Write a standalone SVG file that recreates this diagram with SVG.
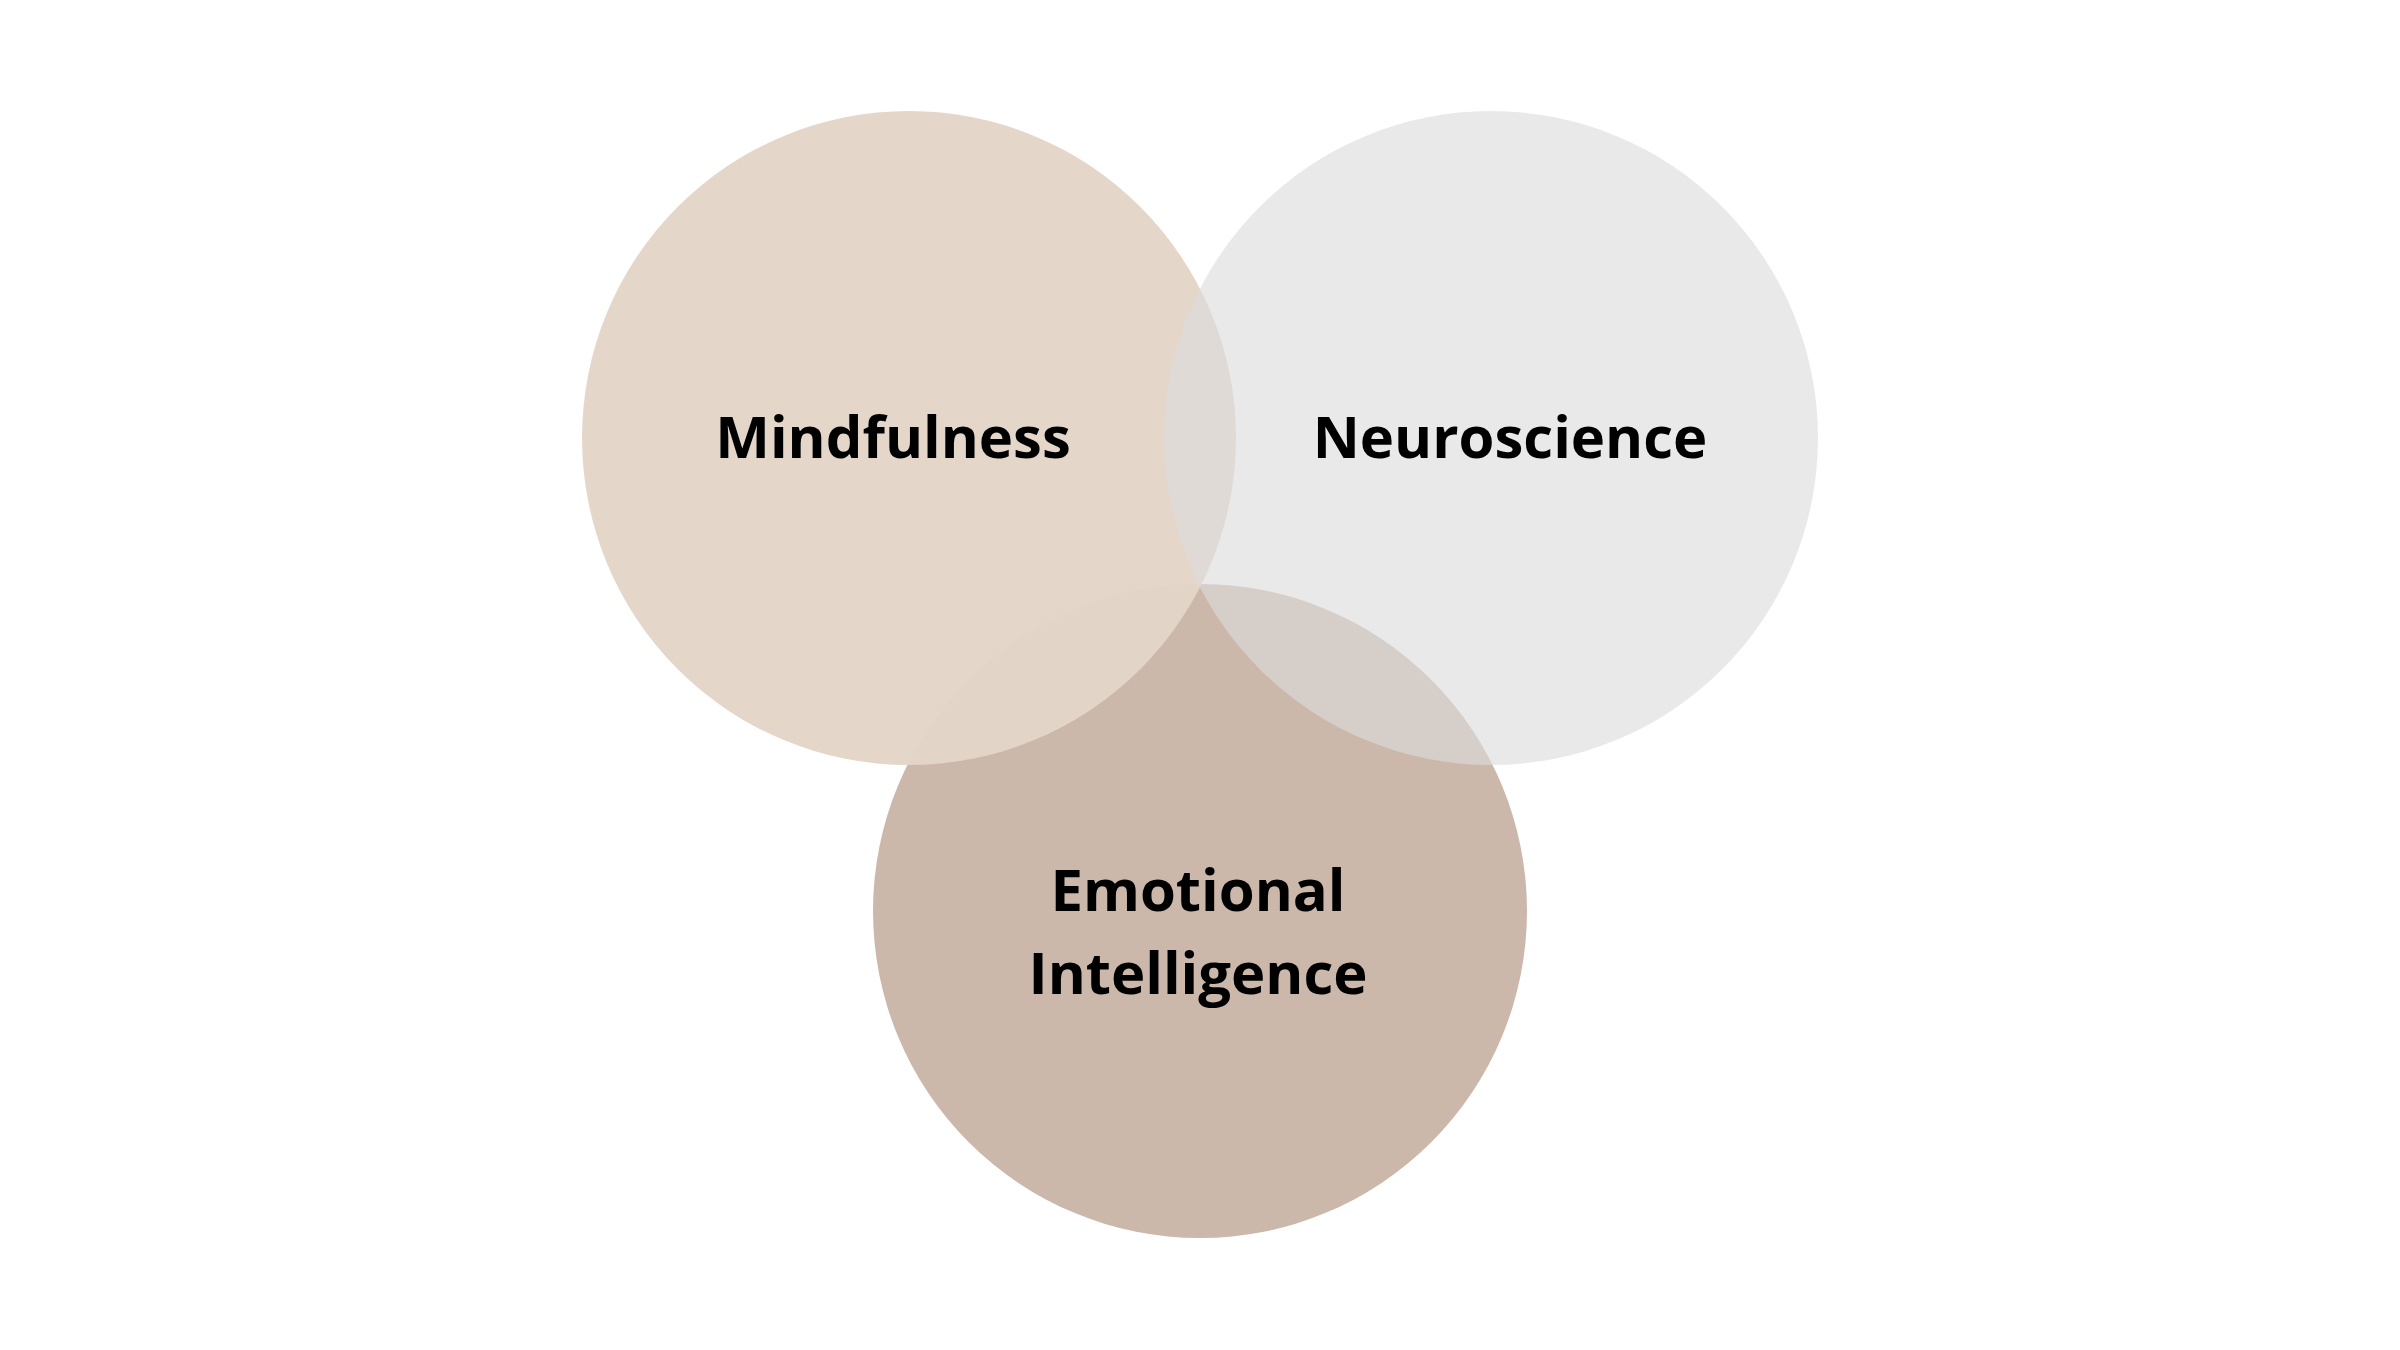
<svg xmlns="http://www.w3.org/2000/svg" width="2400" height="1350" viewBox="0 0 2400 1350">
  <style>
    .lbl { font-family: "Open Sans", "DejaVu Sans", sans-serif; font-weight: 700; font-size: 58px; fill: #000000; text-anchor: middle; }
  </style>
  <rect x="0" y="0" width="2400" height="1350" fill="#ffffff"/>
  <g id="emotional-intelligence">
    <circle cx="1200" cy="911" r="327" fill="#CBB8AA"/>
  </g>
  <g id="mindfulness">
    <circle cx="909" cy="438" r="327" fill="#E3D5C7" fill-opacity="0.95"/>
  </g>
  <g id="neuroscience">
    <circle cx="1491" cy="438" r="327" fill="#DCDCDC" fill-opacity="0.625"/>
  </g>
  <g id="connectors"></g>
  <g id="labels">
    <text class="lbl" x="893" y="458">Mindfulness</text>
    <text class="lbl" x="1510" y="458">Neuroscience</text>
    <text class="lbl" x="1198" y="911">Emotional</text>
    <text class="lbl" x="1198" y="994">Intelligence</text>
  </g>
</svg>
